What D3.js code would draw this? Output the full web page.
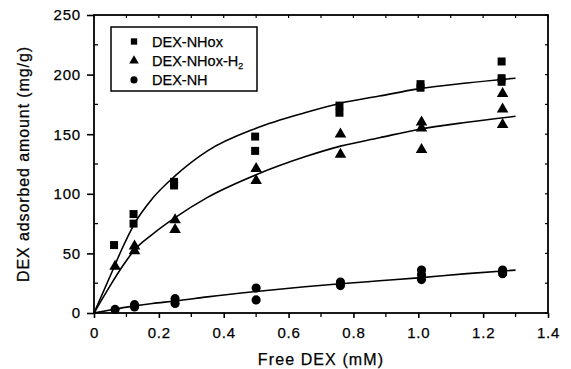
<!DOCTYPE html>
<html>
<head>
<meta charset="utf-8">
<script src="https://cdn.jsdelivr.net/npm/d3@7"></script>
<style>
  body { margin: 0; background: #fff; }
  text { font-family: "Liberation Sans", Arial, sans-serif; fill: #000; stroke: #000; stroke-width: 0.25px; }
</style>
</head>
<body>
<div id="chart"></div>
<script>
// measured concentrations (mM)
const concX = [0.065, 0.125, 0.25, 0.5, 0.76, 1.01, 1.26];

// adsorbed amounts (mg/g), several replicates per concentration
const nhox = [[57], [83, 75], [110, 107], [148, 136], [174, 168], [192, 189], [211, 197, 194]];
const nhoxH2 = [[39], [56, 52], [78, 70], [121, 111], [150, 133], [160, 155, 137], [184, 171, 158]];
const nh = [[3], [7, 5], [12, 8], [21, 11], [26, 23], [36, 32, 28], [36, 34, 33]];

// fitted curves
const fitX = [0, 0.05, 0.09, 0.125, 0.18, 0.25, 0.35, 0.5, 0.65, 0.76, 0.88, 1.0, 1.15, 1.3];
const fitNhox = [0, 31, 56, 75, 96, 115, 136, 155, 168, 176, 182, 188, 193, 197];
const fitNhoxH2 = [0, 23, 40, 53, 66, 80, 97, 116, 131, 140, 147, 154, 160, 165];
const fitNh = [0, 2.5, 4.5, 6, 8, 10, 13.5, 18, 22, 24.5, 27, 29.5, 33, 36];

const xTicks = [0, 0.2, 0.4, 0.6, 0.8, 1.0, 1.2, 1.4];
const xTickLabels = ["0", "0.2", "0.4", "0.6", "0.8", "1.0", "1.2", "1.4"];
const yTicks = [0, 50, 100, 150, 200, 250];

const width = 571, height = 369;
const margin = {left: 94, right: 23, top: 15, bottom: 56};

const svg = d3.select("#chart").append("svg")
    .attr("width", width)
    .attr("height", height);

const x = d3.scaleLinear().domain([0, 1.4]).range([margin.left, width - margin.right]);
const y = d3.scaleLinear().domain([0, 250]).range([height - margin.bottom, margin.top]);

// frame
svg.append("rect")
    .attr("x", x(0)).attr("y", y(250))
    .attr("width", x(1.4) - x(0)).attr("height", y(0) - y(250))
    .attr("fill", "none").attr("stroke", "#000").attr("stroke-width", 1.8);

// bottom axis: major outward, minor inward
const xMinor = d3.range(0.1, 1.4, 0.2);
const xAxis = svg.append("g").attr("transform", `translate(0,${y(0)})`);
xAxis.call(d3.axisBottom(x).tickValues(xTicks).tickSize(5)
    .tickFormat((d, i) => xTickLabels[i]))
    .call(g => g.select(".domain").remove())
    .call(g => g.selectAll(".tick line").attr("stroke-width", 1.6))
    .call(g => g.selectAll("text").attr("font-size", 15).attr("letter-spacing", 0.8).attr("dy", "1.13em"));
xAxis.selectAll(".minor").data(xMinor).enter().append("line")
    .attr("x1", d => x(d)).attr("x2", d => x(d))
    .attr("y1", 0).attr("y2", 4)
    .attr("stroke", "#000").attr("stroke-width", 1.3);

// left axis
const yMinor = d3.range(25, 250, 50);
const yAxis = svg.append("g").attr("transform", `translate(${x(0)},0)`);
yAxis.call(d3.axisLeft(y).tickValues(yTicks).tickSize(7))
    .call(g => g.select(".domain").remove())
    .call(g => g.selectAll(".tick line").attr("stroke-width", 1.6))
    .call(g => g.selectAll("text").attr("font-size", 15).attr("letter-spacing", 0.8).attr("x", -13));
yAxis.selectAll(".minor").data(yMinor).enter().append("line")
    .attr("x1", 0).attr("x2", 4)
    .attr("y1", d => y(d)).attr("y2", d => y(d))
    .attr("stroke", "#000").attr("stroke-width", 1.3);

// inward ticks on top and right
svg.append("g").selectAll("line").data(xTicks.concat(xMinor)).enter().append("line")
    .attr("x1", d => x(d)).attr("x2", d => x(d))
    .attr("y1", y(250)).attr("y2", y(250) + 3)
    .attr("stroke", "#000").attr("stroke-width", 1.2);
svg.append("g").selectAll("line").data(yTicks.concat(yMinor)).enter().append("line")
    .attr("x1", x(1.4)).attr("x2", x(1.4) - 3)
    .attr("y1", d => y(d)).attr("y2", d => y(d))
    .attr("stroke", "#000").attr("stroke-width", 1.2);

// axis titles
svg.append("text")
    .attr("x", (x(0) + x(1.4)) / 2).attr("y", 365)
    .attr("text-anchor", "middle").attr("font-size", 16).attr("letter-spacing", 1.1)
    .text("Free DEX (mM)");
svg.append("text")
    .attr("transform", `translate(29,${(y(0) + y(250)) / 2}) rotate(-90)`)
    .attr("text-anchor", "middle").attr("font-size", 16).attr("letter-spacing", 0.9)
    .text("DEX adsorbed amount (mg/g)");

// fitted curves
const line = d3.line()
    .x((d, i) => x(fitX[i]))
    .y(d => y(d))
    .curve(d3.curveMonotoneX);
[fitNhox, fitNhoxH2, fitNh].forEach(s => {
    svg.append("path")
        .attr("d", line(s))
        .attr("fill", "none").attr("stroke", "#000").attr("stroke-width", 1.6);
});

// points
function flatten(series) {
    const pts = [];
    series.forEach((vals, i) => vals.forEach(v => pts.push({x: concX[i], y: v})));
    return pts;
}
const symSquare = d3.symbol().type(d3.symbolSquare).size(64);
const symTri = d3.symbol().type(d3.symbolTriangle).size(58);
const symCircle = d3.symbol().type(d3.symbolCircle).size(66);

function drawPoints(series, sym, dx) {
    svg.append("g").selectAll("path").data(flatten(series)).enter().append("path")
        .attr("transform", d => `translate(${x(d.x) + dx},${y(d.y)})`)
        .attr("d", sym)
        .attr("fill", "#000");
}
drawPoints(nhox, symSquare, -1);
drawPoints(nhoxH2, symTri, 0);
drawPoints(nh, symCircle, 0);

// legend
const lg = svg.append("g");
lg.append("rect")
    .attr("x", 111).attr("y", 27).attr("width", 146).attr("height", 64)
    .attr("fill", "#fff").attr("stroke", "#000").attr("stroke-width", 1.5);
const legendItems = [
    {sym: symSquare, label: "DEX-NHox", sub: null},
    {sym: symTri, label: "DEX-NHox-H", sub: "2"},
    {sym: symCircle, label: "DEX-NH", sub: null}
];
legendItems.forEach((it, i) => {
    const cy = 41.5 + i * 19.2;
    lg.append("path")
        .attr("transform", `translate(134,${cy})`)
        .attr("d", it.sym.size(40)())
        .attr("fill", "#000");
    const t = lg.append("text")
        .attr("x", 152).attr("y", cy + 5.5)
        .attr("font-size", 14.5)
        .text(it.label);
    if (it.sub) {
        t.append("tspan").attr("dy", 3).attr("font-size", 9).text(it.sub);
    }
});
</script>
</body>
</html>
